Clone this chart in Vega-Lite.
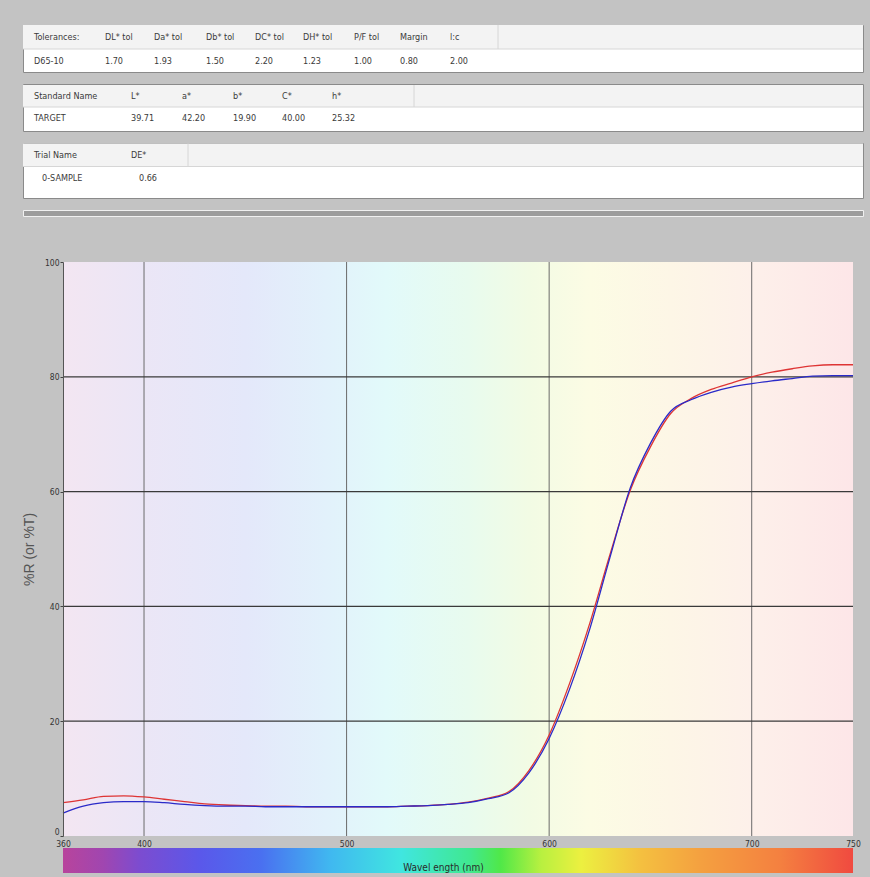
{
  "$schema": "https://vega.github.io/schema/vega-lite/v6.json",
  "background": "#c3c3c3",
  "padding": {"left": 22, "top": 24, "right": 8, "bottom": 5},
  "spacing": 12,
  "bounds": "flush",
  "config": {"view": {"stroke": null}, "font": "Liberation Sans Narrow, DejaVu Sans Condensed, sans-serif"},
  "datasets": {
    "tol": [
      {"row": 0, "col": 0, "text": "Tolerances:"},
      {"row": 0, "col": 1, "text": "DL* tol"},
      {"row": 0, "col": 2, "text": "Da* tol"},
      {"row": 0, "col": 3, "text": "Db* tol"},
      {"row": 0, "col": 4, "text": "DC* tol"},
      {"row": 0, "col": 5, "text": "DH* tol"},
      {"row": 0, "col": 6, "text": "P/F tol"},
      {"row": 0, "col": 7, "text": "Margin"},
      {"row": 0, "col": 8, "text": "l:c"},
      {"row": 1, "col": 0, "text": "D65-10"},
      {"row": 1, "col": 1, "text": "1.70"},
      {"row": 1, "col": 2, "text": "1.93"},
      {"row": 1, "col": 3, "text": "1.50"},
      {"row": 1, "col": 4, "text": "2.20"},
      {"row": 1, "col": 5, "text": "1.23"},
      {"row": 1, "col": 6, "text": "1.00"},
      {"row": 1, "col": 7, "text": "0.80"},
      {"row": 1, "col": 8, "text": "2.00"}
    ],
    "std": [
      {"row": 0, "col": 0, "text": "Standard Name"},
      {"row": 0, "col": 1, "text": "L*"},
      {"row": 0, "col": 2, "text": "a*"},
      {"row": 0, "col": 3, "text": "b*"},
      {"row": 0, "col": 4, "text": "C*"},
      {"row": 0, "col": 5, "text": "h*"},
      {"row": 1, "col": 0, "text": "TARGET"},
      {"row": 1, "col": 1, "text": "39.71"},
      {"row": 1, "col": 2, "text": "42.20"},
      {"row": 1, "col": 3, "text": "19.90"},
      {"row": 1, "col": 4, "text": "40.00"},
      {"row": 1, "col": 5, "text": "25.32"}
    ],
    "trial": [
      {"row": 0, "col": 0, "text": "Trial Name"},
      {"row": 0, "col": 1, "text": "DE*"},
      {"row": 1, "col": 0, "text": "0-SAMPLE"},
      {"row": 1, "col": 1, "text": "0.66"}
    ],
    "span": [{"from": 360, "to": 750}],
    "vgrid": [{"nm": 400}, {"nm": 500}, {"nm": 600}, {"nm": 700}],
    "hgrid": [{"R": 20}, {"R": 40}, {"R": 60}, {"R": 80}],
    "spectra": [
      {"nm": 360, "R": 5.8, "sample": "TARGET"},
      {"nm": 370, "R": 6.3, "sample": "TARGET"},
      {"nm": 380, "R": 6.9, "sample": "TARGET"},
      {"nm": 390, "R": 7.0, "sample": "TARGET"},
      {"nm": 400, "R": 6.8, "sample": "TARGET"},
      {"nm": 410, "R": 6.4, "sample": "TARGET"},
      {"nm": 420, "R": 6.0, "sample": "TARGET"},
      {"nm": 430, "R": 5.6, "sample": "TARGET"},
      {"nm": 440, "R": 5.4, "sample": "TARGET"},
      {"nm": 450, "R": 5.3, "sample": "TARGET"},
      {"nm": 460, "R": 5.2, "sample": "TARGET"},
      {"nm": 470, "R": 5.2, "sample": "TARGET"},
      {"nm": 480, "R": 5.1, "sample": "TARGET"},
      {"nm": 490, "R": 5.1, "sample": "TARGET"},
      {"nm": 500, "R": 5.1, "sample": "TARGET"},
      {"nm": 510, "R": 5.1, "sample": "TARGET"},
      {"nm": 520, "R": 5.1, "sample": "TARGET"},
      {"nm": 530, "R": 5.2, "sample": "TARGET"},
      {"nm": 540, "R": 5.3, "sample": "TARGET"},
      {"nm": 550, "R": 5.5, "sample": "TARGET"},
      {"nm": 560, "R": 5.9, "sample": "TARGET"},
      {"nm": 570, "R": 6.6, "sample": "TARGET"},
      {"nm": 580, "R": 7.7, "sample": "TARGET"},
      {"nm": 590, "R": 11.4, "sample": "TARGET"},
      {"nm": 600, "R": 17.6, "sample": "TARGET"},
      {"nm": 610, "R": 26.5, "sample": "TARGET"},
      {"nm": 620, "R": 37.0, "sample": "TARGET"},
      {"nm": 630, "R": 49.0, "sample": "TARGET"},
      {"nm": 640, "R": 60.2, "sample": "TARGET"},
      {"nm": 650, "R": 67.8, "sample": "TARGET"},
      {"nm": 660, "R": 73.6, "sample": "TARGET"},
      {"nm": 670, "R": 76.2, "sample": "TARGET"},
      {"nm": 680, "R": 77.8, "sample": "TARGET"},
      {"nm": 690, "R": 78.9, "sample": "TARGET"},
      {"nm": 700, "R": 80.0, "sample": "TARGET"},
      {"nm": 710, "R": 80.8, "sample": "TARGET"},
      {"nm": 720, "R": 81.4, "sample": "TARGET"},
      {"nm": 730, "R": 81.9, "sample": "TARGET"},
      {"nm": 740, "R": 82.1, "sample": "TARGET"},
      {"nm": 750, "R": 82.1, "sample": "TARGET"},
      {"nm": 360, "R": 4.0, "sample": "0-SAMPLE"},
      {"nm": 370, "R": 5.2, "sample": "0-SAMPLE"},
      {"nm": 380, "R": 5.8, "sample": "0-SAMPLE"},
      {"nm": 390, "R": 6.0, "sample": "0-SAMPLE"},
      {"nm": 400, "R": 6.0, "sample": "0-SAMPLE"},
      {"nm": 410, "R": 5.8, "sample": "0-SAMPLE"},
      {"nm": 420, "R": 5.5, "sample": "0-SAMPLE"},
      {"nm": 430, "R": 5.3, "sample": "0-SAMPLE"},
      {"nm": 440, "R": 5.2, "sample": "0-SAMPLE"},
      {"nm": 450, "R": 5.2, "sample": "0-SAMPLE"},
      {"nm": 460, "R": 5.1, "sample": "0-SAMPLE"},
      {"nm": 470, "R": 5.1, "sample": "0-SAMPLE"},
      {"nm": 480, "R": 5.1, "sample": "0-SAMPLE"},
      {"nm": 490, "R": 5.1, "sample": "0-SAMPLE"},
      {"nm": 500, "R": 5.1, "sample": "0-SAMPLE"},
      {"nm": 510, "R": 5.1, "sample": "0-SAMPLE"},
      {"nm": 520, "R": 5.1, "sample": "0-SAMPLE"},
      {"nm": 530, "R": 5.2, "sample": "0-SAMPLE"},
      {"nm": 540, "R": 5.3, "sample": "0-SAMPLE"},
      {"nm": 550, "R": 5.5, "sample": "0-SAMPLE"},
      {"nm": 560, "R": 5.8, "sample": "0-SAMPLE"},
      {"nm": 570, "R": 6.5, "sample": "0-SAMPLE"},
      {"nm": 580, "R": 7.5, "sample": "0-SAMPLE"},
      {"nm": 590, "R": 11.0, "sample": "0-SAMPLE"},
      {"nm": 600, "R": 17.0, "sample": "0-SAMPLE"},
      {"nm": 610, "R": 25.5, "sample": "0-SAMPLE"},
      {"nm": 620, "R": 36.0, "sample": "0-SAMPLE"},
      {"nm": 630, "R": 48.5, "sample": "0-SAMPLE"},
      {"nm": 640, "R": 60.6, "sample": "0-SAMPLE"},
      {"nm": 650, "R": 68.4, "sample": "0-SAMPLE"},
      {"nm": 660, "R": 74.0, "sample": "0-SAMPLE"},
      {"nm": 670, "R": 76.0, "sample": "0-SAMPLE"},
      {"nm": 680, "R": 77.3, "sample": "0-SAMPLE"},
      {"nm": 690, "R": 78.2, "sample": "0-SAMPLE"},
      {"nm": 700, "R": 78.8, "sample": "0-SAMPLE"},
      {"nm": 710, "R": 79.3, "sample": "0-SAMPLE"},
      {"nm": 720, "R": 79.7, "sample": "0-SAMPLE"},
      {"nm": 730, "R": 80.1, "sample": "0-SAMPLE"},
      {"nm": 740, "R": 80.2, "sample": "0-SAMPLE"},
      {"nm": 750, "R": 80.2, "sample": "0-SAMPLE"}
    ]
  },
  "vconcat": [
    {
      "width": 840, "height": 47,
      "view": {"fill": "white", "stroke": "#8a8a8a"},
      "data": {"name": "tol"},
      "layer": [
        {
          "transform": [{"filter": "datum.row == 0 && datum.col == 0"}],
          "mark": {"type": "rect", "fill": "#f3f3f3"},
          "encoding": {
            "y": {"datum": -0.5, "type": "quantitative", "scale": {"domain": [0, 1], "range": [12, 36], "nice": false, "zero": false}, "axis": null},
            "y2": {"datum": 0.5}
          }
        },
        {
          "transform": [{"filter": "datum.row == 0 && datum.col == 0"}],
          "mark": {"type": "rule", "color": "#d6d6d6"},
          "encoding": {"y": {"datum": 0.5, "type": "quantitative"}}
        },
        {
          "transform": [{"filter": "datum.row == 0 && datum.col == 0"}],
          "mark": {"type": "rule", "color": "#d6d6d6"},
          "encoding": {
            "x": {"datum": 9, "type": "quantitative", "scale": {"domain": [0, 1, 2, 3, 4, 5, 6, 7, 8, 9], "range": [11, 82, 131, 183, 232, 280, 331, 377, 427, 475], "nice": false, "zero": false}, "axis": null},
            "y": {"datum": -0.5, "type": "quantitative"},
            "y2": {"datum": 0.5}
          }
        },
        {
          "mark": {"type": "text", "align": "left", "baseline": "middle", "fontSize": 9, "color": "#3a3a3a"},
          "encoding": {
            "x": {"field": "col", "type": "quantitative"},
            "y": {"field": "row", "type": "quantitative"},
            "text": {"field": "text"}
          }
        }
      ]
    },
    {
      "width": 840, "height": 47,
      "view": {"fill": "white", "stroke": "#8a8a8a"},
      "data": {"name": "std"},
      "layer": [
        {
          "transform": [{"filter": "datum.row == 0 && datum.col == 0"}],
          "mark": {"type": "rect", "fill": "#f3f3f3"},
          "encoding": {
            "y": {"datum": -0.5, "type": "quantitative", "scale": {"domain": [0, 1], "range": [12, 34], "nice": false, "zero": false}, "axis": null},
            "y2": {"datum": 0.5}
          }
        },
        {
          "transform": [{"filter": "datum.row == 0 && datum.col == 0"}],
          "mark": {"type": "rule", "color": "#d6d6d6"},
          "encoding": {"y": {"datum": 0.5, "type": "quantitative"}}
        },
        {
          "transform": [{"filter": "datum.row == 0 && datum.col == 0"}],
          "mark": {"type": "rule", "color": "#d6d6d6"},
          "encoding": {
            "x": {"datum": 6, "type": "quantitative", "scale": {"domain": [0, 1, 2, 3, 4, 5, 6], "range": [11, 108, 159, 210, 259, 309, 391], "nice": false, "zero": false}, "axis": null},
            "y": {"datum": -0.5, "type": "quantitative"},
            "y2": {"datum": 0.5}
          }
        },
        {
          "mark": {"type": "text", "align": "left", "baseline": "middle", "fontSize": 9, "color": "#3a3a3a"},
          "encoding": {
            "x": {"field": "col", "type": "quantitative"},
            "y": {"field": "row", "type": "quantitative"},
            "text": {"field": "text"}
          }
        }
      ]
    },
    {
      "width": 840, "height": 55,
      "view": {"fill": "white", "stroke": "#8a8a8a"},
      "data": {"name": "trial"},
      "layer": [
        {
          "transform": [{"filter": "datum.row == 0 && datum.col == 0"}],
          "mark": {"type": "rect", "fill": "#f3f3f3"},
          "encoding": {
            "y": {"datum": -0.5, "type": "quantitative", "scale": {"domain": [0, 1], "range": [12, 35], "nice": false, "zero": false}, "axis": null},
            "y2": {"datum": 0.5}
          }
        },
        {
          "transform": [{"filter": "datum.row == 0 && datum.col == 0"}],
          "mark": {"type": "rule", "color": "#d6d6d6"},
          "encoding": {"y": {"datum": 0.5, "type": "quantitative"}}
        },
        {
          "transform": [{"filter": "datum.row == 0 && datum.col == 0"}],
          "mark": {"type": "rule", "color": "#d6d6d6"},
          "encoding": {
            "x": {"datum": 2, "type": "quantitative", "scale": {"domain": [0, 1, 2], "range": [11, 108, 165], "nice": false, "zero": false}, "axis": null},
            "y": {"datum": -0.5, "type": "quantitative"},
            "y2": {"datum": 0.5}
          }
        },
        {
          "transform": [{"filter": "datum.row == 0"}],
          "mark": {"type": "text", "align": "left", "baseline": "middle", "fontSize": 9, "color": "#3a3a3a"},
          "encoding": {
            "x": {"field": "col", "type": "quantitative"},
            "y": {"field": "row", "type": "quantitative"},
            "text": {"field": "text"}
          }
        },
        {
          "transform": [{"filter": "datum.row == 1"}],
          "mark": {"type": "text", "align": "left", "baseline": "middle", "fontSize": 9, "color": "#3a3a3a", "dx": 8},
          "encoding": {
            "x": {"field": "col", "type": "quantitative"},
            "y": {"field": "row", "type": "quantitative"},
            "text": {"field": "text"}
          }
        }
      ]
    },
    {
      "width": 840, "height": 6,
      "view": {"fill": "#9c9c9c", "stroke": "#f0f0f0"},
      "data": {"values": []},
      "mark": "point",
      "encoding": {}
    },
    {
      "width": 830, "height": 608,
      "layer": [
        {
          "data": {"name": "span"},
          "mark": {"type": "rect", "fill": {"gradient": "linear", "x1": 0, "y1": 0, "x2": 1, "y2": 0, "stops": [
            {"offset": 0, "color": "#f3e6f2"},
            {"offset": 0.103, "color": "#ebe6f6"},
            {"offset": 0.231, "color": "#e4e8fa"},
            {"offset": 0.333, "color": "#e2f1fb"},
            {"offset": 0.41, "color": "#e2fafa"},
            {"offset": 0.513, "color": "#e8fbee"},
            {"offset": 0.59, "color": "#f2fbe4"},
            {"offset": 0.667, "color": "#fcfce4"},
            {"offset": 0.769, "color": "#fdf6e6"},
            {"offset": 0.872, "color": "#fdf0ea"},
            {"offset": 1, "color": "#fde6e8"}
          ]}},
          "encoding": {
            "x": {"field": "from", "type": "quantitative",
              "scale": {"domain": [360, 750], "range": [40, 830], "nice": false, "zero": false},
              "axis": {"title": null, "values": [360, 400, 500, 600, 700, 750], "grid": false, "domain": false, "ticks": false, "labelFlush": false, "labelOverlap": false, "labelFontSize": 8.5, "labelColor": "#333333", "labelPadding": 3, "labelFont": "Liberation Sans Narrow, DejaVu Sans Condensed, sans-serif", "zindex": 1}},
            "x2": {"field": "to"},
            "y": {"datum": 0, "type": "quantitative",
              "scale": {"domain": [0, 100], "range": [608, 34], "nice": false, "zero": false},
              "axis": {"title": "%R (or %T)", "offset": -40, "values": [0, 20, 40, 60, 80, 100], "grid": false, "domain": true, "domainColor": "#555555", "ticks": true, "tickSize": 3, "tickColor": "#444444", "labelPadding": 1, "labelFontSize": 8.5, "labelColor": "#333333", "labelBaseline": {"condition": {"test": "datum.value === 0", "value": "bottom"}, "value": "middle"}, "labelFont": "Liberation Sans Narrow, DejaVu Sans Condensed, sans-serif", "titleX": -34, "titleAngle": -90, "titleAlign": "center", "titleBaseline": "middle", "titleFont": "Liberation Sans, Arial, sans-serif", "titleFontSize": 14, "titleFontWeight": "normal", "titleColor": "#555555", "zindex": 1}},
            "y2": {"datum": 100}
          }
        },
        {
          "data": {"name": "vgrid"},
          "mark": {"type": "rule", "color": "#6a6a6a", "strokeWidth": 1},
          "encoding": {
            "x": {"field": "nm", "type": "quantitative"},
            "y": {"datum": 0, "type": "quantitative"},
            "y2": {"datum": 100}
          }
        },
        {
          "data": {"name": "hgrid"},
          "mark": {"type": "rule", "color": "#3a3a3a", "strokeWidth": 1.2},
          "encoding": {
            "y": {"field": "R", "type": "quantitative"},
            "x": {"datum": 360, "type": "quantitative"},
            "x2": {"datum": 750}
          }
        },
        {
          "data": {"name": "spectra"},
          "mark": {"type": "line", "strokeWidth": 1.3, "interpolate": "monotone"},
          "encoding": {
            "x": {"field": "nm", "type": "quantitative"},
            "y": {"field": "R", "type": "quantitative"},
            "color": {"field": "sample", "type": "nominal", "scale": {"domain": ["TARGET", "0-SAMPLE"], "range": ["#de3434", "#2a2ac8"]}, "legend": null},
            "order": {"field": "nm", "type": "quantitative"}
          }
        }
      ]
    },
    {
      "width": 830, "height": 25,
      "data": {"name": "span"},
      "mark": {"type": "rect", "fill": {"gradient": "linear", "x1": 0, "y1": 0, "x2": 1, "y2": 0, "stops": [
        {"offset": 0, "color": "#b8449c"},
        {"offset": 0.051, "color": "#a046b0"},
        {"offset": 0.097, "color": "#7c4cd0"},
        {"offset": 0.174, "color": "#5a58ea"},
        {"offset": 0.251, "color": "#4a70f0"},
        {"offset": 0.338, "color": "#40b8f0"},
        {"offset": 0.428, "color": "#40e6e0"},
        {"offset": 0.515, "color": "#40e890"},
        {"offset": 0.554, "color": "#50e848"},
        {"offset": 0.605, "color": "#b8f040"},
        {"offset": 0.656, "color": "#ecf040"},
        {"offset": 0.731, "color": "#f4c040"},
        {"offset": 0.808, "color": "#f4a040"},
        {"offset": 0.908, "color": "#f48040"},
        {"offset": 1, "color": "#f04a40"}
      ]}},
      "encoding": {
        "x": {"field": "from", "type": "quantitative",
          "scale": {"domain": [360, 750], "range": [40, 830], "nice": false, "zero": false},
          "axis": {"title": "Wavel ength (nm)", "labels": false, "ticks": false, "domain": false, "grid": false, "titleX": 420, "titleY": -3, "titleAlign": "center", "titleBaseline": "alphabetic", "titleFontSize": 10, "titleFontWeight": "normal", "titleColor": "#2a2a2a", "titleFont": "Liberation Sans Narrow, DejaVu Sans Condensed, sans-serif", "zindex": 1}},
        "x2": {"field": "to"}
      }
    }
  ]
}
